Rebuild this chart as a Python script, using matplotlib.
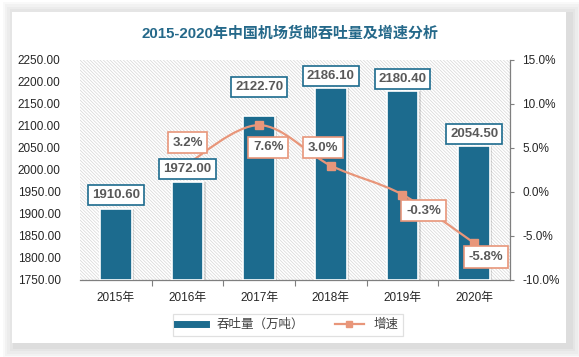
import matplotlib
matplotlib.use('Agg')
import matplotlib.pyplot as plt
from matplotlib.patches import Rectangle, PathPatch
from matplotlib.path import Path
from matplotlib.lines import Line2D

plt.rcParams['font.family'] = ['Liberation Sans', 'Noto Sans CJK SC', 'DejaVu Sans']
plt.rcParams['hatch.linewidth'] = 0.5

years = ['2015年', '2016年', '2017年', '2018年', '2019年', '2020年']
volume = [1910.60, 1972.00, 2122.70, 2186.10, 2180.40, 2054.50]
growth = [None, 3.2, 7.6, 3.0, -0.3, -5.8]
left_ticks = [1750, 1800, 1850, 1900, 1950, 2000, 2050, 2100, 2150, 2200, 2250]
right_ticks = [-10, -5, 0, 5, 10, 15]

teal = '#1c6b8e'
orange = '#e8967a'
textgrey = '#595959'

fig = plt.figure(figsize=(5.79, 3.57), dpi=100)
fig.patch.set_facecolor('white')

# card with soft shadow
for i, a in enumerate([0.04, 0.05, 0.05, 0.06, 0.07]):
    d = (5 - i) * 2.5
    fig.patches.append(Rectangle(((12 - d + 3) / 579, (357 - 346 - d) / 357),
                                 (555 + 2 * d) / 579, (332 + 2 * d) / 357,
                                 transform=fig.transFigure, facecolor='#7f7f7f',
                                 edgecolor='none', alpha=a, zorder=0))
fig.patches.append(Rectangle((12 / 579, (357 - 343) / 357), 554 / 579, 331 / 357,
                             transform=fig.transFigure, facecolor='white',
                             edgecolor='none', zorder=1))

ax = fig.add_axes([80 / 579, 77 / 357, 430 / 579, 220 / 357])
ax.set_zorder(2)
ax.patch.set_facecolor('white')
ax.patch.set_edgecolor('#d6d6d6')
ax.patch.set_hatch('\\' * 10)
ax.patch.set_linewidth(0)

x = list(range(len(years)))
# bar shadow
ax.bar([i + 0.035 for i in x], [v - 1750 for v in volume], bottom=1750, width=0.44,
       color='#000000', alpha=0.12, zorder=2)
ax.bar(x, [v - 1750 for v in volume], bottom=1750, width=0.44, color=teal,
       edgecolor='white', linewidth=1.2, zorder=3)
ax.set_ylim(1750, 2250)
ax.set_xlim(-0.5, len(years) - 0.5)
ax.set_yticks(left_ticks)
ax.set_yticklabels(['%.2f' % t for t in left_ticks])
ax.tick_params(axis='y', length=0, pad=14, labelsize=8.5, colors='#262626')
ax.set_xticks(x)
ax.set_xticklabels(years)
ax.tick_params(axis='x', length=0, pad=9, labelsize=8.5, colors='#262626')
ax.set_xticks([i + 0.5 for i in x[:-1]], minor=True)
ax.tick_params(axis='x', which='minor', length=4, color='#7f7f7f', width=0.8)
for s in ['left', 'top', 'right']:
    ax.spines[s].set_visible(False)
ax.spines['bottom'].set_color('#7f7f7f')
ax.spines['bottom'].set_linewidth(0.9)

ax2 = ax.twinx()
ax2.set_zorder(3)
ax2.set_ylim(-10, 15)
ax2.set_yticks(right_ticks)
ax2.set_yticklabels(['%.1f%%' % t for t in right_ticks])
ax2.tick_params(axis='y', length=3, width=0.8, color='#7f7f7f', pad=6,
                labelsize=8.5, colors='#262626')
for s in ['left', 'top', 'bottom']:
    ax2.spines[s].set_visible(False)
ax2.spines['right'].set_color('#7f7f7f')
ax2.spines['right'].set_linewidth(0.9)

# smoothed growth line (Catmull-Rom as Bezier segments)
gx = [i for i, g in enumerate(growth) if g is not None]
gy = [g for g in growth if g is not None]
pts = list(zip(gx, gy))
verts = [pts[0]]
codes = [Path.MOVETO]
n = len(pts)
for i in range(n - 1):
    p0 = pts[i - 1] if i > 0 else pts[i]
    p1 = pts[i]
    p2 = pts[i + 1]
    p3 = pts[i + 2] if i + 2 < n else pts[i + 1]
    c1 = (p1[0] + (p2[0] - p0[0]) / 6, p1[1] + (p2[1] - p0[1]) / 6)
    c2 = (p2[0] - (p3[0] - p1[0]) / 6, p2[1] - (p3[1] - p1[1]) / 6)
    verts += [c1, c2, p2]
    codes += [Path.CURVE4] * 3
ax2.add_patch(PathPatch(Path(verts, codes), fc='none', ec=orange, lw=1.6, zorder=4))
ax2.plot(gx, gy, linestyle='none', marker='s', markersize=6, color=orange, zorder=5)

# bar value labels drawn on top axes so they cover the line
value_off = [14, 13, 29, 12, 12, 12]
for i, v in enumerate(volume):
    ax2.annotate('%.2f' % v, (i, v), xycoords=ax.transData, xytext=(0, value_off[i]),
                 textcoords='offset pixels', ha='center', va='center', fontsize=9.5,
                 fontweight='bold', color=textgrey,
                 bbox=dict(boxstyle='square,pad=0.3', fc='white', ec=teal, lw=1.2), zorder=7)

growth_off = {1: (0, 21), 2: (9, -22), 3: (-8, 18), 4: (21, -16), 5: (12, -14)}
for i, g in enumerate(growth):
    if g is None:
        continue
    ax2.annotate('%.1f%%' % g, (i, g), xytext=growth_off[i], textcoords='offset pixels',
                 ha='center', va='center', fontsize=9.5, fontweight='bold', color=textgrey,
                 bbox=dict(boxstyle='square,pad=0.35', fc='white', ec=orange, lw=1.2), zorder=6)

fig.text(0.5, (357 - 33) / 357, '2015-2020年中国机场货邮吞吐量及增速分析', ha='center', va='center',
         fontsize=10.8, fontweight='bold', color='#25698a',
         family=['Liberation Sans', 'Noto Sans CJK SC'], zorder=5)

handles = [Line2D([0], [0], color=teal, lw=5),
           Line2D([0], [0], color=orange, lw=1.6, marker='s', markersize=5)]
leg = fig.legend(handles, ['吞吐量（万吨）', '增速'], loc='center', ncol=2,
                 bbox_to_anchor=(288 / 579, (357 - 325) / 357), frameon=True,
                 fontsize=9, handlelength=2.3, columnspacing=2.5, fancybox=False,
                 borderpad=0.35)
leg.get_frame().set_edgecolor('#d9d9d9')
leg.get_frame().set_linewidth(0.9)
for t in leg.get_texts():
    t.set_color('#404040')
leg.set_zorder(6)

fig.savefig('out.png', dpi=100, facecolor=fig.get_facecolor())
